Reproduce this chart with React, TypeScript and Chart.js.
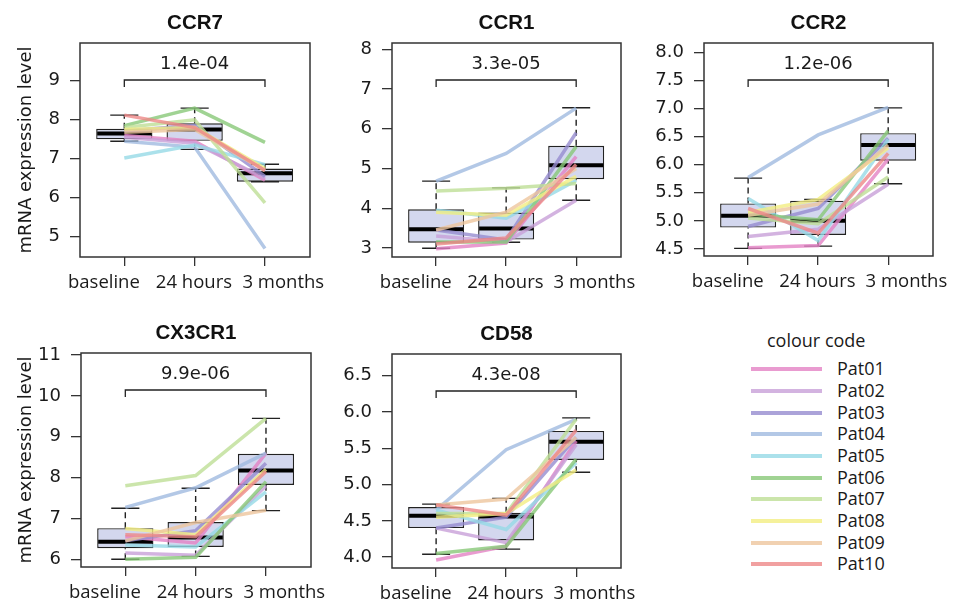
import React, { useEffect, useRef } from 'react';
import { Chart, registerables } from 'chart.js';

Chart.register(...registerables);

// ---------- data ----------
const timepoints = ['baseline', '24 hours', '3 months'];
const patients = ['Pat01', 'Pat02', 'Pat03', 'Pat04', 'Pat05', 'Pat06', 'Pat07', 'Pat08', 'Pat09', 'Pat10'];
const patientColors = [
  'rgba(228,130,196,0.8)',
  'rgba(200,160,216,0.8)',
  'rgba(150,140,208,0.8)',
  'rgba(160,186,224,0.8)',
  'rgba(150,218,230,0.8)',
  'rgba(136,200,120,0.8)',
  'rgba(190,222,150,0.8)',
  'rgba(242,238,130,0.8)',
  'rgba(238,198,158,0.8)',
  'rgba(238,136,136,0.8)',
];
const genes = ['CCR7', 'CCR1', 'CCR2', 'CX3CR1', 'CD58'];
const pValues = ['1.4e-04', '3.3e-05', '1.2e-06', '9.9e-06', '4.3e-08'];

// patient values per gene: [baseline, 24 hours, 3 months]
const ccr7Values = [
  [7.6, 7.45, 6.45], [7.55, 7.4, 6.5], [7.72, 7.85, 6.55], [7.45, 7.3, 4.7], [7.02, 7.35, 6.85],
  [7.85, 8.3, 7.42], [7.8, 8.0, 5.87], [7.75, 7.8, 6.75], [7.68, 7.75, 6.7], [8.12, 7.8, 6.7],
];
const ccr1Values = [
  [2.98, 3.12, 5.3], [3.3, 3.15, 4.2], [3.45, 3.2, 5.9], [4.68, 5.38, 6.52], [3.95, 3.75, 4.7],
  [3.15, 3.15, 5.55], [4.43, 4.5, 4.62], [3.9, 3.82, 4.8], [3.45, 3.9, 5.0], [3.1, 3.25, 5.1],
];
const ccr2Values = [
  [4.52, 4.56, 6.1], [4.72, 4.85, 5.65], [4.9, 5.22, 6.47], [5.77, 6.53, 7.02], [5.4, 4.65, 6.45],
  [5.12, 5.02, 6.6], [5.05, 4.95, 5.78], [5.15, 5.38, 6.3], [5.1, 5.3, 6.35], [5.22, 4.78, 6.2],
];
const cx3cr1Values = [
  [6.55, 6.4, 8.6], [6.15, 6.1, 7.8], [6.45, 6.7, 8.35], [7.27, 7.75, 8.6], [6.35, 6.3, 7.65],
  [6.0, 6.05, 7.9], [7.8, 8.05, 9.45], [6.75, 6.6, 8.2], [6.45, 6.9, 7.2], [6.6, 6.55, 8.15],
];
const cd58Values = [
  [3.96, 4.15, 5.6], [4.4, 4.2, 5.55], [4.4, 4.55, 5.65], [4.65, 5.48, 5.9], [4.65, 4.38, 5.3],
  [4.05, 4.15, 5.35], [4.6, 4.6, 5.9], [4.55, 4.6, 5.2], [4.72, 4.8, 5.65], [4.72, 4.58, 5.75],
];

// box stats per time point: [lower whisker, Q1, median, Q3, upper whisker]
const ccr7Box = [[7.45, 7.5, 7.65, 7.77, 8.12], [7.24, 7.46, 7.75, 7.91, 8.3], [6.41, 6.41, 6.63, 6.75, 6.86]];
const ccr1Box = [[2.99, 3.13, 3.47, 3.97, 4.68], [3.14, 3.21, 3.49, 3.89, 4.51], [4.2, 4.73, 5.08, 5.57, 6.53]];
const ccr2Box = [[4.51, 4.88, 5.09, 5.31, 5.76], [4.55, 4.75, 5.0, 5.36, 5.38], [5.66, 6.07, 6.35, 6.56, 7.01]];
const cx3cr1Box = [[6.0, 6.27, 6.43, 6.76, 7.25], [6.07, 6.3, 6.53, 6.91, 7.74], [7.19, 7.82, 8.17, 8.58, 9.45]];
const cd58Box = [[4.04, 4.4, 4.57, 4.69, 4.73], [4.11, 4.23, 4.56, 4.61, 4.81], [5.17, 5.34, 5.59, 5.74, 5.92]];

// y tick labels
const ccr7Ticks = [5, 6, 7, 8, 9];
const ccr1Ticks = [3, 4, 5, 6, 7, 8];
const ccr2Ticks = [4.5, 5.0, 5.5, 6.0, 6.5, 7.0, 7.5, 8.0];
const cx3cr1Ticks = [6, 7, 8, 9, 10, 11];
const cd58Ticks = [4.0, 4.5, 5.0, 5.5, 6.0, 6.5];

// ---------- layout ----------
const ARIAL = '"Liberation Sans", Arial, sans-serif';
const DEJAVU = '"DejaVu Sans", sans-serif';
const SANS2 = '"Open Sans", sans-serif';
const xTickPositions = [1, 2, 3];
const xLabelPositions = [0.71, 1.99, 3.26];

const panels = [
  { gene: 0, values: ccr7Values, box: ccr7Box, ticks: ccr7Ticks, dec: 0, min: 4.48, max: 9.97, yTitle: true,
    x0: 0, y0: 0, w: 335, h: 300, left: 80, top: 43, right: 310, bottom: 257 },
  { gene: 1, values: ccr1Values, box: ccr1Box, ticks: ccr1Ticks, dec: 0, min: 2.77, max: 8.16, yTitle: false,
    x0: 335, y0: 0, w: 310, h: 300, left: 392, top: 43, right: 621, bottom: 257 },
  { gene: 2, values: ccr2Values, box: ccr2Box, ticks: ccr2Ticks, dec: 1, min: 4.375, max: 8.165, yTitle: false,
    x0: 645, y0: 0, w: 313, h: 300, left: 704, top: 43, right: 933, bottom: 256 },
  { gene: 3, values: cx3cr1Values, box: cx3cr1Box, ticks: cx3cr1Ticks, dec: 0, min: 5.81, max: 11.05, yTitle: true,
    x0: 0, y0: 300, w: 335, h: 305, left: 81, top: 353, right: 311, bottom: 567 },
  { gene: 4, values: cd58Values, box: cd58Box, ticks: cd58Ticks, dec: 1, min: 3.85, max: 6.8, yTitle: false,
    x0: 335, y0: 300, w: 310, h: 305, left: 392, top: 354, right: 621, bottom: 568 },
];

const boxplotPlugin = {
  id: 'boxplot',
  beforeDatasetsDraw(chart: any, _args: any, opts: any) {
    const { ctx } = chart;
    const x = chart.scales.x;
    const y = chart.scales.y;
    ctx.save();
    ctx.strokeStyle = '#222';
    ctx.lineWidth = 1.4;
    opts.stats.forEach((s: number[], i: number) => {
      const cx = x.getPixelForValue(i + 1);
      const capHalf = x.getPixelForValue(i + 1 + 0.2) - cx;
      ctx.setLineDash([6, 4]);
      ctx.beginPath();
      ctx.moveTo(cx, y.getPixelForValue(s[0]));
      ctx.lineTo(cx, y.getPixelForValue(s[1]));
      ctx.moveTo(cx, y.getPixelForValue(s[3]));
      ctx.lineTo(cx, y.getPixelForValue(s[4]));
      ctx.stroke();
      ctx.setLineDash([]);
      ctx.beginPath();
      ctx.moveTo(cx - capHalf, y.getPixelForValue(s[0]));
      ctx.lineTo(cx + capHalf, y.getPixelForValue(s[0]));
      ctx.moveTo(cx - capHalf, y.getPixelForValue(s[4]));
      ctx.lineTo(cx + capHalf, y.getPixelForValue(s[4]));
      ctx.stroke();
    });
    ctx.restore();
  },
  afterDatasetDraw(chart: any, args: any, opts: any) {
    if (args.index !== 0) return;
    const { ctx } = chart;
    const y = chart.scales.y;
    ctx.save();
    ctx.strokeStyle = '#000';
    ctx.lineWidth = 4;
    args.meta.data.forEach((bar: any, i: number) => {
      const py = y.getPixelForValue(opts.stats[i][2]);
      ctx.beginPath();
      ctx.moveTo(bar.x - bar.width / 2 + 1, py);
      ctx.lineTo(bar.x + bar.width / 2 - 1, py);
      ctx.stroke();
    });
    ctx.restore();
  },
  afterDraw(chart: any, _args: any, opts: any) {
    const { ctx, chartArea } = chart;
    const x = chart.scales.x;
    const { left, top, right, bottom } = chartArea;
    ctx.save();
    ctx.strokeStyle = '#333';
    ctx.lineWidth = 1.5;
    ctx.strokeRect(left, top, right - left, bottom - top);
    const x1 = x.getPixelForValue(1);
    const x3 = x.getPixelForValue(3);
    const by = top + 37;
    ctx.lineWidth = 1.3;
    ctx.strokeStyle = '#222';
    ctx.beginPath();
    ctx.moveTo(x1, by + 7);
    ctx.lineTo(x1, by);
    ctx.lineTo(x3, by);
    ctx.lineTo(x3, by + 7);
    ctx.stroke();
    ctx.fillStyle = '#1a1a1a';
    ctx.font = `18px ${DEJAVU}`;
    ctx.textAlign = 'center';
    ctx.textBaseline = 'middle';
    ctx.fillText(opts.pValue, (x1 + x3) / 2, top + 21);
    ctx.restore();
  },
};

function zeroPad(ax: any) {
  ax.paddingLeft = 0;
  ax.paddingRight = 0;
  ax.paddingTop = 0;
  ax.paddingBottom = 0;
}

function Panel({ p }: { p: any }) {
  const ref = useRef<HTMLCanvasElement>(null);
  useEffect(() => {
    const boxData = p.box.map((s: number[], i: number) => ({ x: i + 1, y: [s[1], s[3]] }));
    const lineSets = patients.map((name, i) => ({
      type: 'line' as const,
      label: name,
      xAxisID: 'x',
      yAxisID: 'y',
      data: p.values[i].map((v: number, t: number) => ({ x: t + 1, y: v })),
      borderColor: patientColors[i],
      borderWidth: 3.5,
      pointRadius: 0,
      fill: false,
      tension: 0,
      order: 10 - i,
    }));
    const titleH = p.top - p.y0;
    const tickAxisH = 10;
    const chart = new Chart(ref.current as HTMLCanvasElement, {
      type: 'bar',
      data: {
        datasets: [
          {
            type: 'bar',
            label: 'box',
            xAxisID: 'x',
            yAxisID: 'y',
            data: boxData,
            backgroundColor: '#d3d7ee',
            borderColor: '#222',
            borderWidth: 1.4,
            borderSkipped: false,
            barPercentage: 0.8,
            categoryPercentage: 1,
            order: 100,
          } as any,
          ...lineSets,
        ],
      },
      options: {
        animation: false,
        responsive: false,
        maintainAspectRatio: false,
        events: [],
        layout: { padding: { left: 0, top: 0, bottom: 0, right: p.x0 + p.w - p.right } },
        plugins: {
          legend: { display: false },
          tooltip: { enabled: false },
          title: {
            display: true,
            text: genes[p.gene],
            fullSize: false,
            color: '#111',
            font: { family: ARIAL, size: 20.5, weight: 'bold' },
            padding: { top: titleH - 31.6, bottom: 7 },
          },
          boxplot: { stats: p.box, pValue: pValues[p.gene] },
        } as any,
        scales: {
          x: {
            type: 'linear',
            position: 'bottom',
            weight: 0,
            min: 0.37,
            max: 3.64,
            offset: false,
            afterBuildTicks: (ax: any) => { ax.ticks = xTickPositions.map((v) => ({ value: v })); },
            afterFit: (ax: any) => { ax.height = tickAxisH; zeroPad(ax); },
            ticks: { autoSkip: false, maxRotation: 0, padding: 0, callback: () => '' },
            grid: { drawOnChartArea: false, drawTicks: true, tickLength: 9, color: '#333', lineWidth: 1.3, offset: false },
            border: { display: false },
          },
          xLab: {
            type: 'linear',
            axis: 'x',
            position: 'bottom',
            weight: 1,
            min: 0.37,
            max: 3.64,
            offset: false,
            afterBuildTicks: (ax: any) => { ax.ticks = xLabelPositions.map((v) => ({ value: v })); },
            afterFit: (ax: any) => { ax.height = p.y0 + p.h - p.bottom - tickAxisH; zeroPad(ax); },
            ticks: {
              autoSkip: false,
              maxRotation: 0,
              padding: 5,
              color: '#1a1a1a',
              font: { family: SANS2, size: 18.5 },
              callback: (_v: any, i: number) => timepoints[i],
            },
            grid: { display: false, drawTicks: false, tickLength: 0 },
            border: { display: false },
          },
          y: {
            type: 'linear',
            min: p.min,
            max: p.max,
            beginAtZero: false,
            afterBuildTicks: (ax: any) => { ax.ticks = p.ticks.map((v: number) => ({ value: v })); },
            afterFit: (ax: any) => { ax.width = p.left - p.x0; zeroPad(ax); },
            ticks: {
              padding: 10,
              color: '#1a1a1a',
              font: { family: DEJAVU, size: 18 },
              callback: (v: any) => Number(v).toFixed(p.dec),
            },
            grid: { drawOnChartArea: false, drawTicks: true, tickLength: 10, color: '#333', lineWidth: 1.3 },
            border: { display: false },
            title: {
              display: p.yTitle,
              text: 'mRNA expression level',
              color: '#1a1a1a',
              font: { family: DEJAVU, size: 18 },
              padding: { top: 16, bottom: 0 },
            },
          },
        },
      } as any,
      plugins: [boxplotPlugin],
    });
    return () => chart.destroy();
  }, [p]);
  return (
    <canvas
      ref={ref}
      width={p.w}
      height={p.h}
      style={{ position: 'absolute', left: p.x0, top: p.y0, width: p.w, height: p.h }}
    />
  );
}

function Legend() {
  const rowH = 21.67;
  return (
    <div style={{ position: 'absolute', left: 0, top: 0 }}>
      <div
        style={{
          position: 'absolute', left: 767, top: 328, fontFamily: SANS2, fontSize: 18,
          lineHeight: '24px', color: '#1a1a1a', whiteSpace: 'nowrap',
        }}
      >
        colour code
      </div>
      {patients.map((name, i) => (
        <div
          key={name}
          style={{
            position: 'absolute', left: 751, top: 369.3 - rowH / 2 + i * rowH, height: rowH,
            display: 'flex', alignItems: 'center', whiteSpace: 'nowrap',
          }}
        >
          <span style={{ display: 'inline-block', width: 71, height: 4, background: patientColors[i] }} />
          <span
            style={{
              marginLeft: 15, fontFamily: SANS2, fontSize: 18, lineHeight: `${rowH}px`, color: '#1a1a1a',
            }}
          >
            {name}
          </span>
        </div>
      ))}
    </div>
  );
}

export default function App() {
  return (
    <div style={{ position: 'absolute', left: 0, top: 0, width: 958, height: 605, background: '#fff', overflow: 'hidden' }}>
      {panels.map((p) => (
        <Panel key={p.gene} p={p} />
      ))}
      <Legend />
    </div>
  );
}
